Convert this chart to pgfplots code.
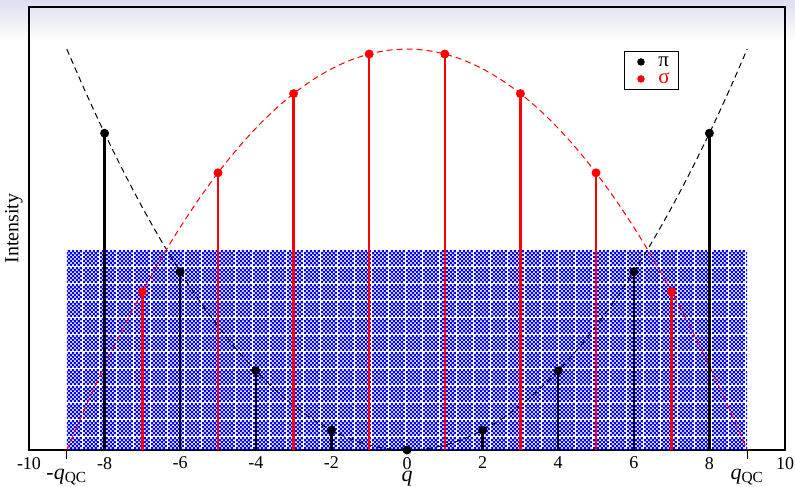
\documentclass[border=0pt]{standalone}
\usepackage{fontspec}
\setmainfont{Liberation Serif}
\usepackage{pgfplots}
\pgfplotsset{compat=1.18}
\usetikzlibrary{patterns,backgrounds,calc}
\definecolor{lav}{RGB}{221,222,240}
\pgfdeclarepatternformonly{qchk}{\pgfpointorigin}{\pgfpoint{8.3pt}{8.3pt}}{\pgfpoint{8.3pt}{8.3pt}}{%
  \foreach \i in {0,...,7}{\foreach \j in {0,...,7}{%
    \pgfmathtruncatemacro\s{mod(\i+\j,2)}%
    \ifnum\s=0 \pgfpathrectangle{\pgfpoint{\i pt}{\j pt}}{\pgfpoint{1.1pt}{1.1pt}}\pgfusepath{fill}\fi}}}
\begin{document}
\begin{tikzpicture}
\begin{axis}[name=ax, scale only axis, width=378pt, height=221.5pt,
  xmin=-10, xmax=10, ymin=0, ymax=89.5,
  xtick={-10,-8,...,10}, xticklabels={-10,-8,-6,-4,-2,0,2,4,6,8,10},
  ytick=\empty, major tick length=0pt, xtick pos=lower,
  extra x ticks={-9,9},
  extra x tick labels={-\textit{q}\textsubscript{QC},\textit{q}\textsubscript{QC}},
  extra x tick style={major tick length=4.5pt, tick align=outside, xtick pos=lower,
     tick style={black,line width=0.5pt},
     tick label style={font=\fontsize{11}{11}\selectfont, yshift=-1.5pt}},
  tick label style={font=\fontsize{9}{10}\selectfont},
  label style={font=\fontsize{9}{10}\selectfont},
  xlabel={\textit{q}}, ylabel={Intensity},
  every axis x label/.style={at={([yshift=-15.5pt]axis description cs:0.5,0)}, anchor=base, font=\fontsize{11}{11}\selectfont},
  every axis y label/.style={at={([xshift=-7.5pt]axis description cs:0,0.5)}, rotate=90, anchor=center},
  axis line style={line width=0.6pt},
  clip=false,
  legend style={at={(axis cs:5.74,80.6)}, anchor=north west, font=\fontsize{10.5}{11}\selectfont,
    row sep=0.5pt, inner xsep=3pt, inner ysep=1.2pt, draw=black, line width=0.5pt,
    nodes={inner sep=1.5pt, text height=5pt, text depth=0pt}},
  legend cell align=left,
]
% hatched region
\addplot[pattern=qchk, pattern color=blue, draw=none, forget plot]
  coordinates {(-9,0) (-9,40.5) (9,40.5) (9,0)} \closedcycle;
% black dashed curve (pi)
\addplot[black, line width=0.5pt, dash pattern=on 3pt off 2pt, smooth, forget plot] coordinates {
(-9,81) (-8.5,72.25) (-8,64) (-7.5,56.25) (-7,49) (-6.5,42.25) (-6,36) (-5.5,30.25)
(-5,25) (-4.5,20.25) (-4,16) (-3.5,12.25) (-3,9) (-2.5,6.25) (-2,4) (-1.5,2.25)
(-1,1) (-0.5,0.25) (0,0) (0.5,0.25) (1,1) (1.5,2.25) (2,4) (2.5,6.25) (3,9)
(3.5,12.25) (4,16) (4.5,20.25) (5,25) (5.5,30.25) (6,36) (6.5,42.25) (7,49)
(7.5,56.25) (8,64) (8.5,72.25) (9,81)};
% red dashed curve (sigma)
\addplot[red, line width=0.5pt, dash pattern=on 3pt off 2pt, smooth, forget plot] coordinates {
(-9,0) (-8.5,8.75) (-8,17) (-7.5,24.75) (-7,32) (-6.5,38.75) (-6,45) (-5.5,50.75)
(-5,56) (-4.5,60.75) (-4,65) (-3.5,68.75) (-3,72) (-2.5,74.75) (-2,77) (-1.5,78.75)
(-1,80) (-0.5,80.75) (0,81) (0.5,80.75) (1,80) (1.5,78.75) (2,77) (2.5,74.75) (3,72)
(3.5,68.75) (4,65) (4.5,60.75) (5,56) (5.5,50.75) (6,45) (6.5,38.75) (7,32)
(7.5,24.75) (8,17) (8.5,8.75) (9,0)};
% stems
\addplot[ycomb, black, line width=1.2pt, mark=*, mark size=1.6pt, forget plot] coordinates {
(-8,64) (-6,36) (-4,16) (-2,4) (0,0) (2,4) (4,16) (6,36) (8,64)};
\addplot[ycomb, red, line width=1.2pt, mark=*, mark size=1.6pt, forget plot] coordinates {
(-7,32) (-5,56) (-3,72) (-1,80) (1,80) (3,72) (5,56) (7,32)};
\addlegendimage{legend image code/.code={\fill[black] (5pt,0) circle (1.6pt); \path (0,0) (12pt,0);}}
\addlegendentry{π}
\addlegendimage{legend image code/.code={\fill[red] (5pt,0) circle (1.6pt); \path (0,0) (12pt,0);}}
\addlegendentry{\textcolor{red}{σ}}
\end{axis}
\begin{scope}[on background layer]
\fill[white] ($(ax.south west)+(-14.5pt,-18pt)$) rectangle ($(ax.north east)+(5pt,3.5pt)$);
\shade[top color=lav, bottom color=white] ($(ax.north west)+(-14.5pt,3.5pt)$) rectangle ($(ax.north east)+(5pt,-17pt)$);
\end{scope}
\pgfresetboundingbox
\path ($(ax.south west)+(-14.5pt,-18pt)$) rectangle ($(ax.north east)+(5pt,3.5pt)$);
\end{tikzpicture}
\end{document}
